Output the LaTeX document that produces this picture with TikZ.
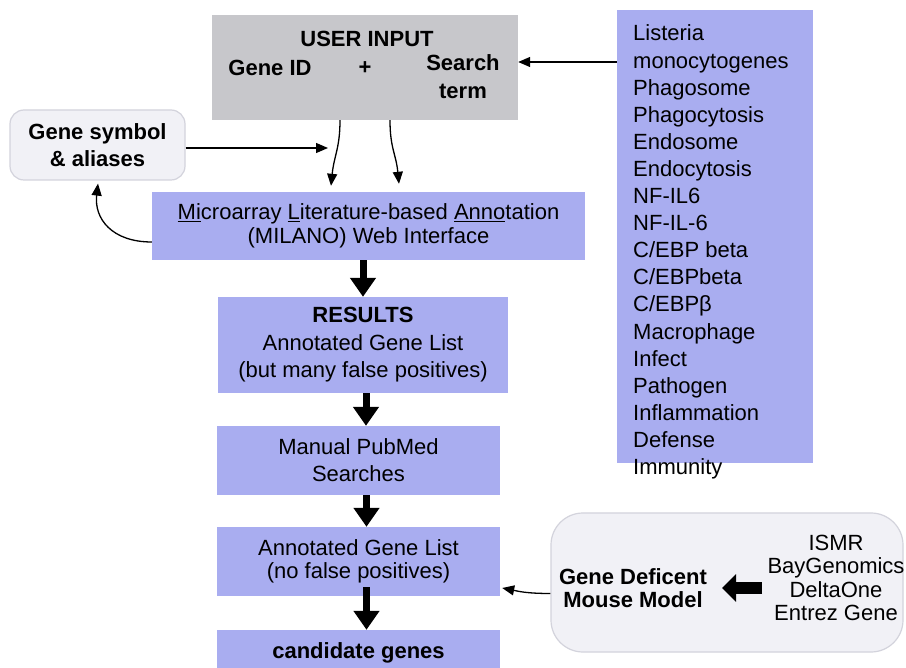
\documentclass[tikz,border=0pt]{standalone}
\usepackage{fontspec}
\setmainfont{Liberation Sans}
\usetikzlibrary{arrows.meta,calc}
\definecolor{lav}{HTML}{A9ADF0}
\definecolor{uigray}{HTML}{C7C7CB}
\definecolor{rndfill}{HTML}{F1F1F6}
\definecolor{rnddraw}{HTML}{D3D3DC}
\newcommand\fsz[1]{\fontsize{22}{#1}\selectfont}
\begin{document}
\begin{tikzpicture}[x=1pt,y=-1pt,
  box/.style={fill=lav, draw=none, inner sep=0pt, align=center},
  rbox/.style={fill=rndfill, draw=rnddraw, line width=1.2pt, inner sep=0pt},
  txt/.style={inner sep=0pt, align=center},
  thinarrow/.style={line width=1.3pt, -{Triangle[length=12pt,width=10pt]}},
  thickarrow/.style={line width=7pt, -{Triangle[length=19pt,width=25pt]}},
  blockarrow/.style={line width=12pt, -{Triangle[length=14pt,width=27pt]}}
]
\useasboundingbox (0,0) rectangle (906,668);
\clip (0,0) rectangle (906,668);
\fill[white] (0,0) rectangle (906,668);

% USER INPUT
\node[fill=uigray, inner sep=0pt, minimum width=306pt, minimum height=105pt] (ui) at (365,67.5) {};
\node[txt, font=\fsz{26}\bfseries] (uit) at (367,39) {USER INPUT};
\node[txt, font=\fsz{26}\bfseries] (uig) at (270,68) {Gene ID};
\node[txt, font=\fsz{26}\bfseries] (uip) at (365,68) {+};
\node[txt, font=\fsz{28}\bfseries] (uis) at (463,77) {Search\\term};

% keyword list
\node[box, minimum width=196pt, minimum height=453pt] (kw) at (715,236.5) {};
\foreach \w [count=\i] in {Listeria, monocytogenes, Phagosome, Phagocytosis, Endosome, Endocytosis, NF-IL6, NF-IL-6, C/EBP beta, C/EBPbeta, C/EBPβ, Macrophage, Infect, Pathogen, Inflammation, Defense, Immunity}
  \node[inner sep=0pt, anchor=base west, font=\fsz{26}] (kw\i) at (633, {41+(\i-1)*27.1}) {\w};

% gene symbol
\node[rbox, rounded corners=14pt, minimum width=175pt, minimum height=70pt, align=center, font=\fsz{27}\bfseries] (gs) at (97.5,145) {Gene symbol\\\& aliases};

% MILANO
\node[box, minimum width=433pt, minimum height=68pt, font=\fsz{23.5}] (mil) at (368.5,226)
  {\underline{Mi}croarray \underline{L}iterature-based \underline{An}\underline{no}tation\\(MILANO) Web Interface};

% results
\node[box, minimum width=290pt, minimum height=96pt, font=\fsz{27.5}] (res) at (363,345)
  {\textbf{RESULTS}\\Annotated Gene List\\(but many false positives)};

% manual pubmed
\node[box, minimum width=283pt, minimum height=69pt, font=\fsz{27}] (man) at (358.5,460.5) {Manual PubMed\\Searches};

% annotated
\node[box, minimum width=283pt, minimum height=69pt, font=\fsz{23.5}] (ann) at (358.5,561.5) {Annotated Gene List\\(no false positives)};

% candidate
\node[box, minimum width=283pt, minimum height=46pt, font=\fsz{26}\bfseries] (cand) at (358.5,653) {candidate genes};

% gene deficient
\node[rbox, rounded corners=32pt, minimum width=352pt, minimum height=139pt] (gd) at (727,582.5) {};
\node[txt, font=\fsz{23}\bfseries] (gdl) at (633,588.5) {Gene Deficent\\Mouse Model};
\node[txt, font=\fsz{23.3}] (gdr) at (836,578) {ISMR\\BayGenomics\\DeltaOne\\Entrez Gene};

% connectors
\draw[thinarrow] ([yshift=174.5pt]kw.west) -- ([yshift=5.5pt]ui.east);
\coordinate (gsend) at (328,148);
\draw[thinarrow] ([yshift=-3pt]gs.east) -- (gsend);
\draw[thinarrow] ([xshift=-25pt]ui.south) .. controls +(0,28) and +(3,-30) .. ([xshift=-37.5pt,yshift=6pt]mil.north);
\draw[thinarrow] ([xshift=25pt]ui.south) .. controls +(0,28) and +(-3,-30) .. ([xshift=30.5pt,yshift=8pt]mil.north);
\draw[thinarrow] ([yshift=-16pt]mil.west) .. controls +(-40,0) and +(-4,35) .. ([xshift=0.5pt,yshift=-3pt]gs.south);
\draw[thickarrow] (mil.south -| res.north) -- (res.north);
\draw[thickarrow] ([xshift=3pt]res.south) -- ([xshift=3pt]res.south |- man.north);
\draw[thickarrow] ([xshift=8pt]man.south) -- ([xshift=8pt]man.south |- ann.north);
\draw[thickarrow] ([xshift=8pt,yshift=9pt]ann.south) -- ([xshift=8pt]ann.south |- cand.north);
\draw[thinarrow] ([yshift=-11pt]gd.west) .. controls +(-25,0) and +(15,3) .. ([xshift=2pt,yshift=-26.5pt]ann.east);
\draw[blockarrow] (762,588) -- (722,588);
\end{tikzpicture}
\end{document}
